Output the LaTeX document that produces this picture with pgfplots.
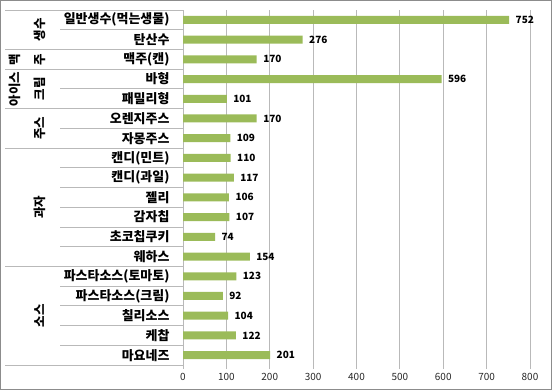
\documentclass[border=0pt]{standalone}
\usepackage{fontspec}
\setmainfont{Noto Sans CJK KR}
\usepackage{pgfplots}
\pgfplotsset{compat=1.18}
\definecolor{bargreen}{HTML}{9BBB59}
\definecolor{gridgray}{HTML}{B9B9B9}
\definecolor{framegray}{HTML}{8C8C8C}
\begin{document}
\begin{tikzpicture}[x=1bp,y=1bp]
\path[use as bounding box] (0,0) rectangle (552,390);
\draw[framegray, line width=1bp] (0.5,0.5) rectangle (551.5,389.5);
\begin{axis}[
  at={(183bp,25bp)}, anchor=south west, scale only axis,
  width=347bp, height=355bp,
  xbar, bar width=8bp,
  xmin=0, xmax=800, ymin=-0.5, ymax=17.5, y dir=reverse,
  xtick={0,100,...,800}, ytick={0,...,17},
  yticklabels={일반생수(먹는생물),탄산수,맥주(캔),바형,패밀리형,오렌지주스,자몽주스,캔디(민트),캔디(과일),젤리,감자칩,초코칩쿠키,웨하스,파스타소스(토마토),파스타소스(크림),칠리소스,케찹,마요네즈},
  xmajorgrids, grid style={gridgray, line width=0.8bp},
  axis x line*=bottom, axis y line*=left,
  x axis line style={draw=none},
  y axis line style={draw=gridgray, line width=0.8bp},
  tick align=outside, major tick length=4bp,
  xtick style={draw=gridgray, line width=0.8bp},
  ytick style={draw=none},
  yticklabel style={font=\bfseries\fontsize{13}{14}\selectfont, xshift=-6bp},
  xticklabel style={font=\fontsize{10}{12}\selectfont, text=black!85, yshift=-1bp},
  /pgf/number format/assume math mode=true,
  nodes near coords, nodes near coords align={horizontal},
  nodes near coords style={font=\bfseries\fontsize{10}{12}\selectfont, black, xshift=3bp},
  clip=false,
]
\addplot[fill=bargreen, draw=none] coordinates {
(752,0) (276,1) (170,2) (596,3) (101,4) (170,5) (109,6) (110,7) (117,8)
(106,9) (107,10) (74,11) (154,12) (123,13) (92,14) (104,15) (122,16) (201,17)};
\pgfplotsinvokeforeach{-0.5,1.5,2.5,4.5,6.5,12.5,17.5}{
  \draw[gridgray, line width=0.8bp] (axis cs:0,#1) -- ([xshift=-178bp]axis cs:0,#1);
}
\pgfplotsinvokeforeach{0.5,3.5,5.5,7.5,8.5,9.5,10.5,11.5,13.5,14.5,15.5,16.5}{
  \draw[gridgray, line width=0.8bp] (axis cs:0,#1) -- ([xshift=-123bp]axis cs:0,#1);
}
\begin{scope}[every node/.style={font=\bfseries\fontsize{12.5}{14}\selectfont, rotate=90, inner sep=0pt}]
\node at ([xshift=-143bp]axis cs:0,0.5) {생수};
\node at ([xshift=-168bp]axis cs:0,2) {맥};
\node at ([xshift=-143bp]axis cs:0,2) {주};
\node at ([xshift=-168bp]axis cs:0,3.5) {아이스};
\node at ([xshift=-143bp]axis cs:0,3.5) {크림};
\node at ([xshift=-143bp]axis cs:0,5.5) {주스};
\node at ([xshift=-143bp]axis cs:0,9.5) {과자};
\node at ([xshift=-143bp]axis cs:0,15) {소스};
\end{scope}
\end{axis}
\end{tikzpicture}
\end{document}
